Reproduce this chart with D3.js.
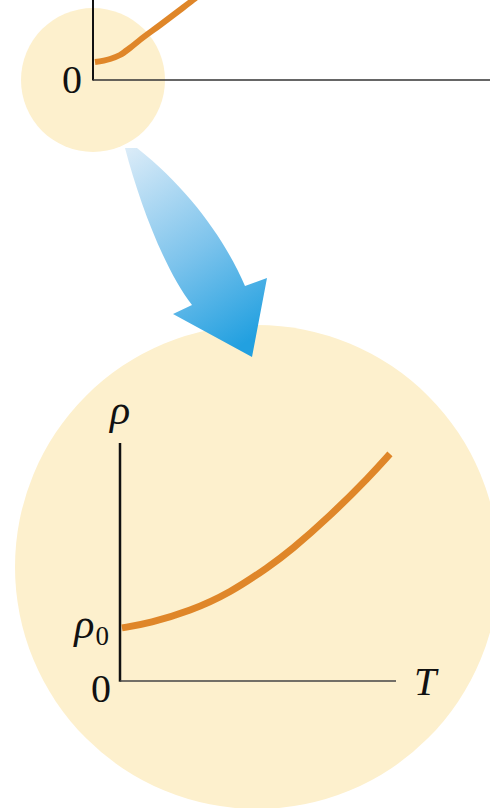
<!DOCTYPE html>
<html>
<head>
<meta charset="utf-8">
<script src="https://cdn.jsdelivr.net/npm/d3@7"></script>
<style>
html,body{margin:0;padding:0;background:#fff;}
svg{display:block;}
</style>
</head>
<body>
<svg id="chart" width="490" height="808"></svg>
<script>
// ---- data ----
// full-range view (top, mostly off-screen): temperature and resistivity
const topT   = [0.5, 4.3, 6.8, 9.3, 11.8, 16.9, 21.9, 25.2, 28.5];
const topRho = [4.5, 5.25, 6.25, 8.0, 10.0, 13.75, 17.5, 20.0, 22.6];
// magnified low-temperature view (bottom)
const lowT   = [0.7, 10.9, 25.4, 39.9, 54.3, 61.6, 76.1, 90.6, 97.8];
const lowRho = [22.3, 24.4, 29.4, 37.0, 48.3, 54.6, 69.3, 86.1, 95.4];
const rho0Value = 22.3;
const axisLabels = {x: "T", y: "\u03C1", zero: "0", rho0: "\u03C1", rho0Sub: "0"};

const svg = d3.select("#chart");
const defs = svg.append("defs");
const orange = "#DF8629";
const cream = "#FDF0CD";
const serif = "'Liberation Serif','Times New Roman',serif";

// ---- top (overview) chart ----
const tx = d3.scaleLinear().domain([0, 100]).range([93, 490]);
const ty = d3.scaleLinear().domain([0, 20]).range([80, 0]);

svg.append("circle").attr("cx", tx(0)).attr("cy", ty(0)).attr("r", 72).attr("fill", cream);

svg.append("line").attr("x1", tx(0)).attr("x2", tx(0)).attr("y1", ty(0)+0.5).attr("y2", ty(21))
  .attr("stroke", "#111").attr("stroke-width", 2);
svg.append("line").attr("x1", tx(0)).attr("x2", tx(100)).attr("y1", ty(0)).attr("y2", ty(0))
  .attr("stroke", "#333").attr("stroke-width", 1.5);

svg.append("path")
  .datum(topT.map((t, i) => [t, topRho[i]]))
  .attr("d", d3.line().x(d => tx(d[0])).y(d => ty(d[1])).curve(d3.curveMonotoneX))
  .attr("fill", "none").attr("stroke", orange).attr("stroke-width", 6).attr("stroke-linecap", "butt");

svg.append("text").attr("x", tx(0) - 21).attr("y", ty(0) + 13)
  .attr("text-anchor", "middle").attr("font-family", serif).attr("font-size", 40)
  .attr("fill", "#111").text(axisLabels.zero);

// ---- magnified chart background ----
svg.append("circle").attr("cx", 257).attr("cy", 567).attr("r", 242).attr("fill", cream);

// ---- arrow (drawn over the big circle) ----
const grad = defs.append("linearGradient").attr("id", "arrowGrad")
  .attr("gradientUnits", "userSpaceOnUse")
  .attr("x1", 125).attr("y1", 148).attr("x2", 250).attr("y2", 340);
grad.append("stop").attr("offset", "0%").attr("stop-color", "#dcecf8");
grad.append("stop").attr("offset", "55%").attr("stop-color", "#7cc3ec");
grad.append("stop").attr("offset", "100%").attr("stop-color", "#22a0e0");

const arrowPath = d3.path();
arrowPath.moveTo(125, 148);
arrowPath.bezierCurveTo(140, 205, 165, 270, 192, 305);
arrowPath.lineTo(173, 314);
arrowPath.lineTo(252, 357);
arrowPath.lineTo(267, 278);
arrowPath.lineTo(245, 286);
arrowPath.bezierCurveTo(225, 240, 190, 190, 137, 148);
arrowPath.closePath();
svg.append("path").attr("d", arrowPath.toString()).attr("fill", "url(#arrowGrad)");

// ---- magnified chart ----
const x = d3.scaleLinear().domain([0, 100]).range([120, 396]);
const y = d3.scaleLinear().domain([0, 100]).range([681, 443]);

svg.append("line").attr("x1", x(0)).attr("x2", x(0)).attr("y1", y(0)+0.7).attr("y2", y(100))
  .attr("stroke", "#111").attr("stroke-width", 2.5);
svg.append("line").attr("x1", x(0)).attr("x2", x(100)).attr("y1", y(0)).attr("y2", y(0))
  .attr("stroke", "#444").attr("stroke-width", 1.5);

svg.append("path")
  .datum(lowT.map((t, i) => [t, lowRho[i]]))
  .attr("d", d3.line().x(d => x(d[0])).y(d => y(d[1])).curve(d3.curveBasis))
  .attr("fill", "none").attr("stroke", orange).attr("stroke-width", 7).attr("stroke-linecap", "butt");

// labels
svg.append("text").attr("x", x(0)).attr("y", y(100) - 19)
  .attr("text-anchor", "middle").attr("font-family", serif).attr("font-style", "italic")
  .attr("font-size", 42).attr("fill", "#111").text(axisLabels.y);

const r0 = svg.append("text").attr("x", x(0) - 11).attr("y", y(rho0Value) + 10)
  .attr("text-anchor", "end").attr("font-family", serif).attr("fill", "#111");
r0.append("tspan").attr("font-style", "italic").attr("font-size", 42).text(axisLabels.rho0);
r0.append("tspan").attr("font-size", 27).attr("dy", 7).attr("dx", 1).text(axisLabels.rho0Sub);

svg.append("text").attr("x", x(0) - 19).attr("y", y(0) + 21)
  .attr("text-anchor", "middle").attr("font-family", serif).attr("font-size", 40)
  .attr("fill", "#111").text(axisLabels.zero);

svg.append("text").attr("x", x(100) + 29).attr("y", y(0) + 14)
  .attr("text-anchor", "middle").attr("font-family", serif).attr("font-style", "italic")
  .attr("font-size", 40).attr("fill", "#111").text(axisLabels.x);
</script>
</body>
</html>
